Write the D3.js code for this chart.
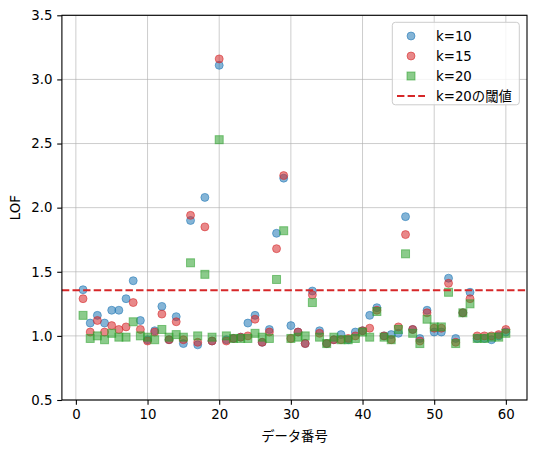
<!DOCTYPE html>
<html>
<head>
<meta charset="utf-8">
<script src="https://cdn.jsdelivr.net/npm/d3@7"></script>
<style>
body { margin: 0; background: #fff; }
svg { display: block; font-family: "DejaVu Sans", "Noto Sans CJK JP", sans-serif; }
</style>
</head>
<body>
<svg id="chart" width="536" height="453"></svg>
<script>
// data index 1..60
const indices = d3.range(1, 61);
const k10 = [1.36,1.10,1.16,1.10,1.20,1.20,1.29,1.43,1.12,0.97,
             1.04,1.23,0.97,1.15,0.94,1.90,0.93,2.08,0.96,3.11,
             0.97,0.98,0.99,1.10,1.16,0.95,1.05,1.80,2.23,1.08,
             1.03,0.94,1.35,1.04,0.94,0.97,1.01,0.97,1.03,1.04,
             1.16,1.22,1.00,1.01,1.02,1.93,1.05,0.98,1.20,1.03,
             1.03,1.45,0.98,1.18,1.34,0.98,0.98,0.97,1.00,1.03];
const k15 = [1.29,1.03,1.12,1.03,1.08,1.05,1.07,1.26,1.05,0.96,
             1.03,1.17,0.97,1.11,0.97,1.94,0.95,1.85,0.96,3.16,
             0.96,0.98,0.99,1.00,1.13,0.95,1.03,1.68,2.25,0.98,
             1.03,0.94,1.32,1.02,0.94,0.97,0.97,0.98,1.00,1.04,
             1.06,1.20,1.00,0.97,1.07,1.79,1.05,0.96,1.18,1.06,
             1.06,1.41,0.95,1.18,1.29,1.00,1.00,1.00,1.01,1.05];
const k20 = [1.16,0.98,1.00,0.97,1.02,0.99,0.99,1.11,1.00,0.99,
             0.97,1.05,0.99,1.01,0.99,1.57,1.00,1.48,0.99,2.53,
             1.00,0.98,0.98,0.98,1.02,0.99,0.98,1.44,1.82,0.98,
             0.99,1.00,1.26,0.99,0.94,0.99,0.97,0.97,0.98,1.03,
             0.99,1.19,0.99,0.97,1.05,1.64,1.02,0.94,1.13,1.07,
             1.07,1.34,0.94,1.18,1.25,0.98,0.98,0.99,0.99,1.02];
const threshold = 1.355;
const xTicks = [0, 10, 20, 30, 40, 50, 60];
const yTicks = [0.5, 1.0, 1.5, 2.0, 2.5, 3.0, 3.5];
const seriesNames = ["k=10", "k=15", "k=20"];
const thresholdLabel = "k=20の閾値";
const xLabel = "データ番号";
const yLabel = "LOF";

const colors = ["#1f77b4", "#d62728", "#2ca02c"];
const shapes = ["circle", "circle", "square"];
const seriesData = [k10, k15, k20];

const L = 61.9, R = 527, T = 15.3, B = 400;
const svg = d3.select("#chart");
const x = d3.scaleLinear().domain([-1.95, 62.95]).range([L, R]);
const y = d3.scaleLinear().domain([0.5, 3.5]).range([B, T]);
const fs = 13.33;
const alpha = 0.55;
const msize = 8;
const FONT = '"DejaVu Sans", "Noto Sans CJK JP", sans-serif';

// grid
const grid = svg.append("g");
grid.selectAll(".gx").data(xTicks).join("line")
  .attr("x1", d => x(d)).attr("x2", d => x(d)).attr("y1", T).attr("y2", B)
  .attr("stroke", "#b0b0b0").attr("stroke-width", 0.8).attr("stroke-opacity", 0.8);
grid.selectAll(".gy").data(yTicks).join("line")
  .attr("y1", d => y(d)).attr("y2", d => y(d)).attr("x1", L).attr("x2", R)
  .attr("stroke", "#b0b0b0").attr("stroke-width", 0.8).attr("stroke-opacity", 0.8);

// points
function drawMarker(g, shape, color, cx, cy) {
  let m;
  if (shape === "circle") {
    m = g.append("circle").attr("cx", cx).attr("cy", cy).attr("r", msize / 2);
  } else {
    m = g.append("rect").attr("x", cx - msize / 2).attr("y", cy - msize / 2)
      .attr("width", msize).attr("height", msize);
  }
  m.attr("fill", color).attr("fill-opacity", alpha)
   .attr("stroke", color).attr("stroke-opacity", alpha).attr("stroke-width", 1);
  return m;
}

seriesData.forEach((vals, si) => {
  const g = svg.append("g");
  vals.forEach((v, i) => {
    drawMarker(g, shapes[si], colors[si], x(indices[i]), y(v));
  });
});

// threshold line
svg.append("line")
  .attr("x1", L).attr("x2", R).attr("y1", y(threshold)).attr("y2", y(threshold))
  .attr("stroke", "#d62728").attr("stroke-width", 2).attr("stroke-dasharray", "7.4,3.2");

// axes
const xAxis = d3.axisBottom(x).tickValues(xTicks).tickSize(4.7).tickPadding(5.3)
  .tickFormat(d3.format("d"));
const gx = svg.append("g").attr("transform", `translate(0,${B})`).call(xAxis);
const yAxis = d3.axisLeft(y).tickValues(yTicks).tickSize(4.7).tickPadding(4.8)
  .tickFormat(d3.format(".1f"));
const gy = svg.append("g").attr("transform", `translate(${L},0)`).call(yAxis);
[gx, gy].forEach(g => {
  g.select(".domain").remove();
  g.selectAll(".tick line").attr("stroke", "#000").attr("stroke-width", 1.1);
  g.selectAll(".tick text").attr("fill", "#000").style("font-size", fs + "px")
    .style("font-family", FONT);
});

// frame
svg.append("rect").attr("x", L).attr("y", T).attr("width", R - L).attr("height", B - T)
  .attr("fill", "none").attr("stroke", "#000").attr("stroke-width", 1.1);

// axis labels
svg.append("text").attr("x", (L + R) / 2).attr("y", 441).attr("text-anchor", "middle")
  .style("font-size", fs + "px").text(xLabel);
svg.append("text").attr("transform", `translate(19.5,${(T + B) / 2}) rotate(-90)`)
  .attr("text-anchor", "middle").style("font-size", fs + "px").text(yLabel);

// legend
const lg = svg.append("g");
lg.append("rect").attr("x", 392.3).attr("y", 22.3).attr("width", 127).attr("height", 82.5)
  .attr("rx", 3).attr("fill", "#fff").attr("fill-opacity", 0.8)
  .attr("stroke", "#cccccc").attr("stroke-width", 1);
const rows = [36, 56, 76, 96];
seriesNames.forEach((name, i) => {
  drawMarker(lg, shapes[i], colors[i], 411, rows[i]);
  lg.append("text").attr("x", 436).attr("y", rows[i]).attr("dy", "0.36em")
    .style("font-size", fs + "px").text(name);
});
lg.append("line").attr("x1", 397).attr("x2", 425).attr("y1", rows[3]).attr("y2", rows[3])
  .attr("stroke", "#d62728").attr("stroke-width", 2).attr("stroke-dasharray", "7.4,3.2");
lg.append("text").attr("x", 436).attr("y", rows[3]).attr("dy", "0.36em")
  .style("font-size", fs + "px").text(thresholdLabel);
</script>
</body>
</html>
